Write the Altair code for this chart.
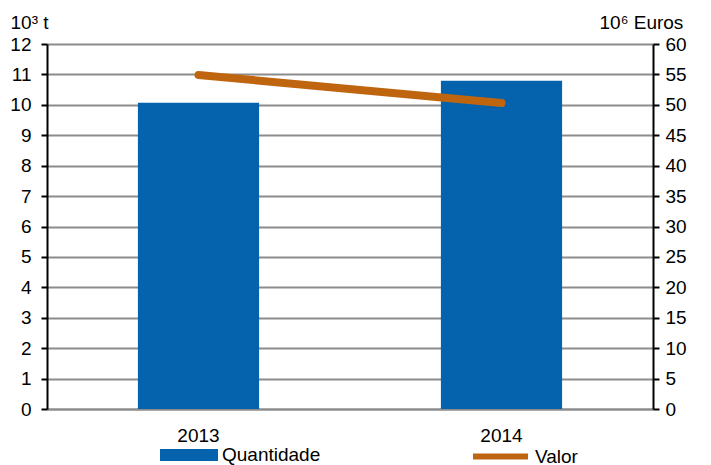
import altair as alt
import pandas as pd

years = ["2013", "2014"]
quantidade = [10.07, 10.79]   # 10^3 t
valor = [54.9, 50.3]          # 10^6 Euros

df = pd.DataFrame({
    "ano": years,
    "quantidade": quantidade,
    "valor": valor,
    "s_q": ["Quantidade"] * len(years),
    "s_v": ["Valor"] * len(years),
})

BLUE = "#0563AD"
ORANGE = "#C0650F"
GRID = "#8c8c8c"
FS = 19

x = alt.X("ano:N", sort=years, title=None,
          scale=alt.Scale(paddingInner=0.6, paddingOuter=0.3),
          axis=alt.Axis(labelAngle=0, ticks=False, labelFontSize=FS, labelPadding=17,
                        domainColor=GRID, domainWidth=2, labelColor="black"))

bars = alt.Chart(df).mark_bar().encode(
    x=x,
    y=alt.Y("quantidade:Q", scale=alt.Scale(domain=[0, 12], nice=False),
            axis=alt.Axis(values=list(range(13)), grid=True, gridColor=GRID, gridWidth=2,
                          domainColor="black", domainWidth=2, tickColor="black", tickWidth=2,
                          tickSize=6, labelFontSize=FS, labelPadding=10, labelColor="black",
                          title="10³ t", titleAngle=0, titleX=-37, titleY=-16,
                          titleAlign="left", titleBaseline="alphabetic",
                          titleFontWeight="normal", titleFontSize=FS, titleColor="black")),
    fill=alt.Fill("s_q:N", scale=alt.Scale(domain=["Quantidade"], range=[BLUE]),
                  legend=alt.Legend(title=None, orient="none", legendX=113, legendY=382,
                                    symbolType="M-1,-0.21H1V0.21H-1Z", symbolSize=3364,
                                    symbolStrokeWidth=0, labelFontSize=FS, labelColor="black",
                                    labelOffset=4, padding=0)),
)

line = alt.Chart(df).mark_line(strokeWidth=8, strokeCap="round").encode(
    x=x,
    y=alt.Y("valor:Q", scale=alt.Scale(domain=[0, 60], nice=False),
            axis=alt.Axis(orient="right", values=list(range(0, 61, 5)), grid=False,
                          domainColor="black", domainWidth=2, tickColor="black", tickWidth=2,
                          tickSize=6, labelFontSize=FS, labelPadding=6, labelColor="black",
                          title="10⁶ Euros", titleAngle=0, titleX=-54, titleY=-16,
                          titleAlign="left", titleBaseline="alphabetic",
                          titleFontWeight="normal", titleFontSize=FS, titleColor="black")),
    stroke=alt.Stroke("s_v:N", scale=alt.Scale(domain=["Valor"], range=[ORANGE]),
                      legend=alt.Legend(title=None, orient="none", legendX=423, legendY=382,
                                        symbolType="M-1,0H1", symbolSize=3025,
                                        symbolStrokeWidth=6, labelFontSize=FS, labelColor="black",
                                        labelOffset=4, padding=0)),
)

chart = alt.layer(bars, line).resolve_scale(
    y="independent", fill="independent", stroke="independent"
).properties(
    width=606, height=365,
    autosize=alt.AutoSizeParams(type="none"),
    padding={"left": 39, "top": 36, "right": 50, "bottom": 56},
).configure(font="Liberation Sans").configure_view(stroke=None)

chart.save("out.html", embed_options={"renderer": "svg", "actions": False})
